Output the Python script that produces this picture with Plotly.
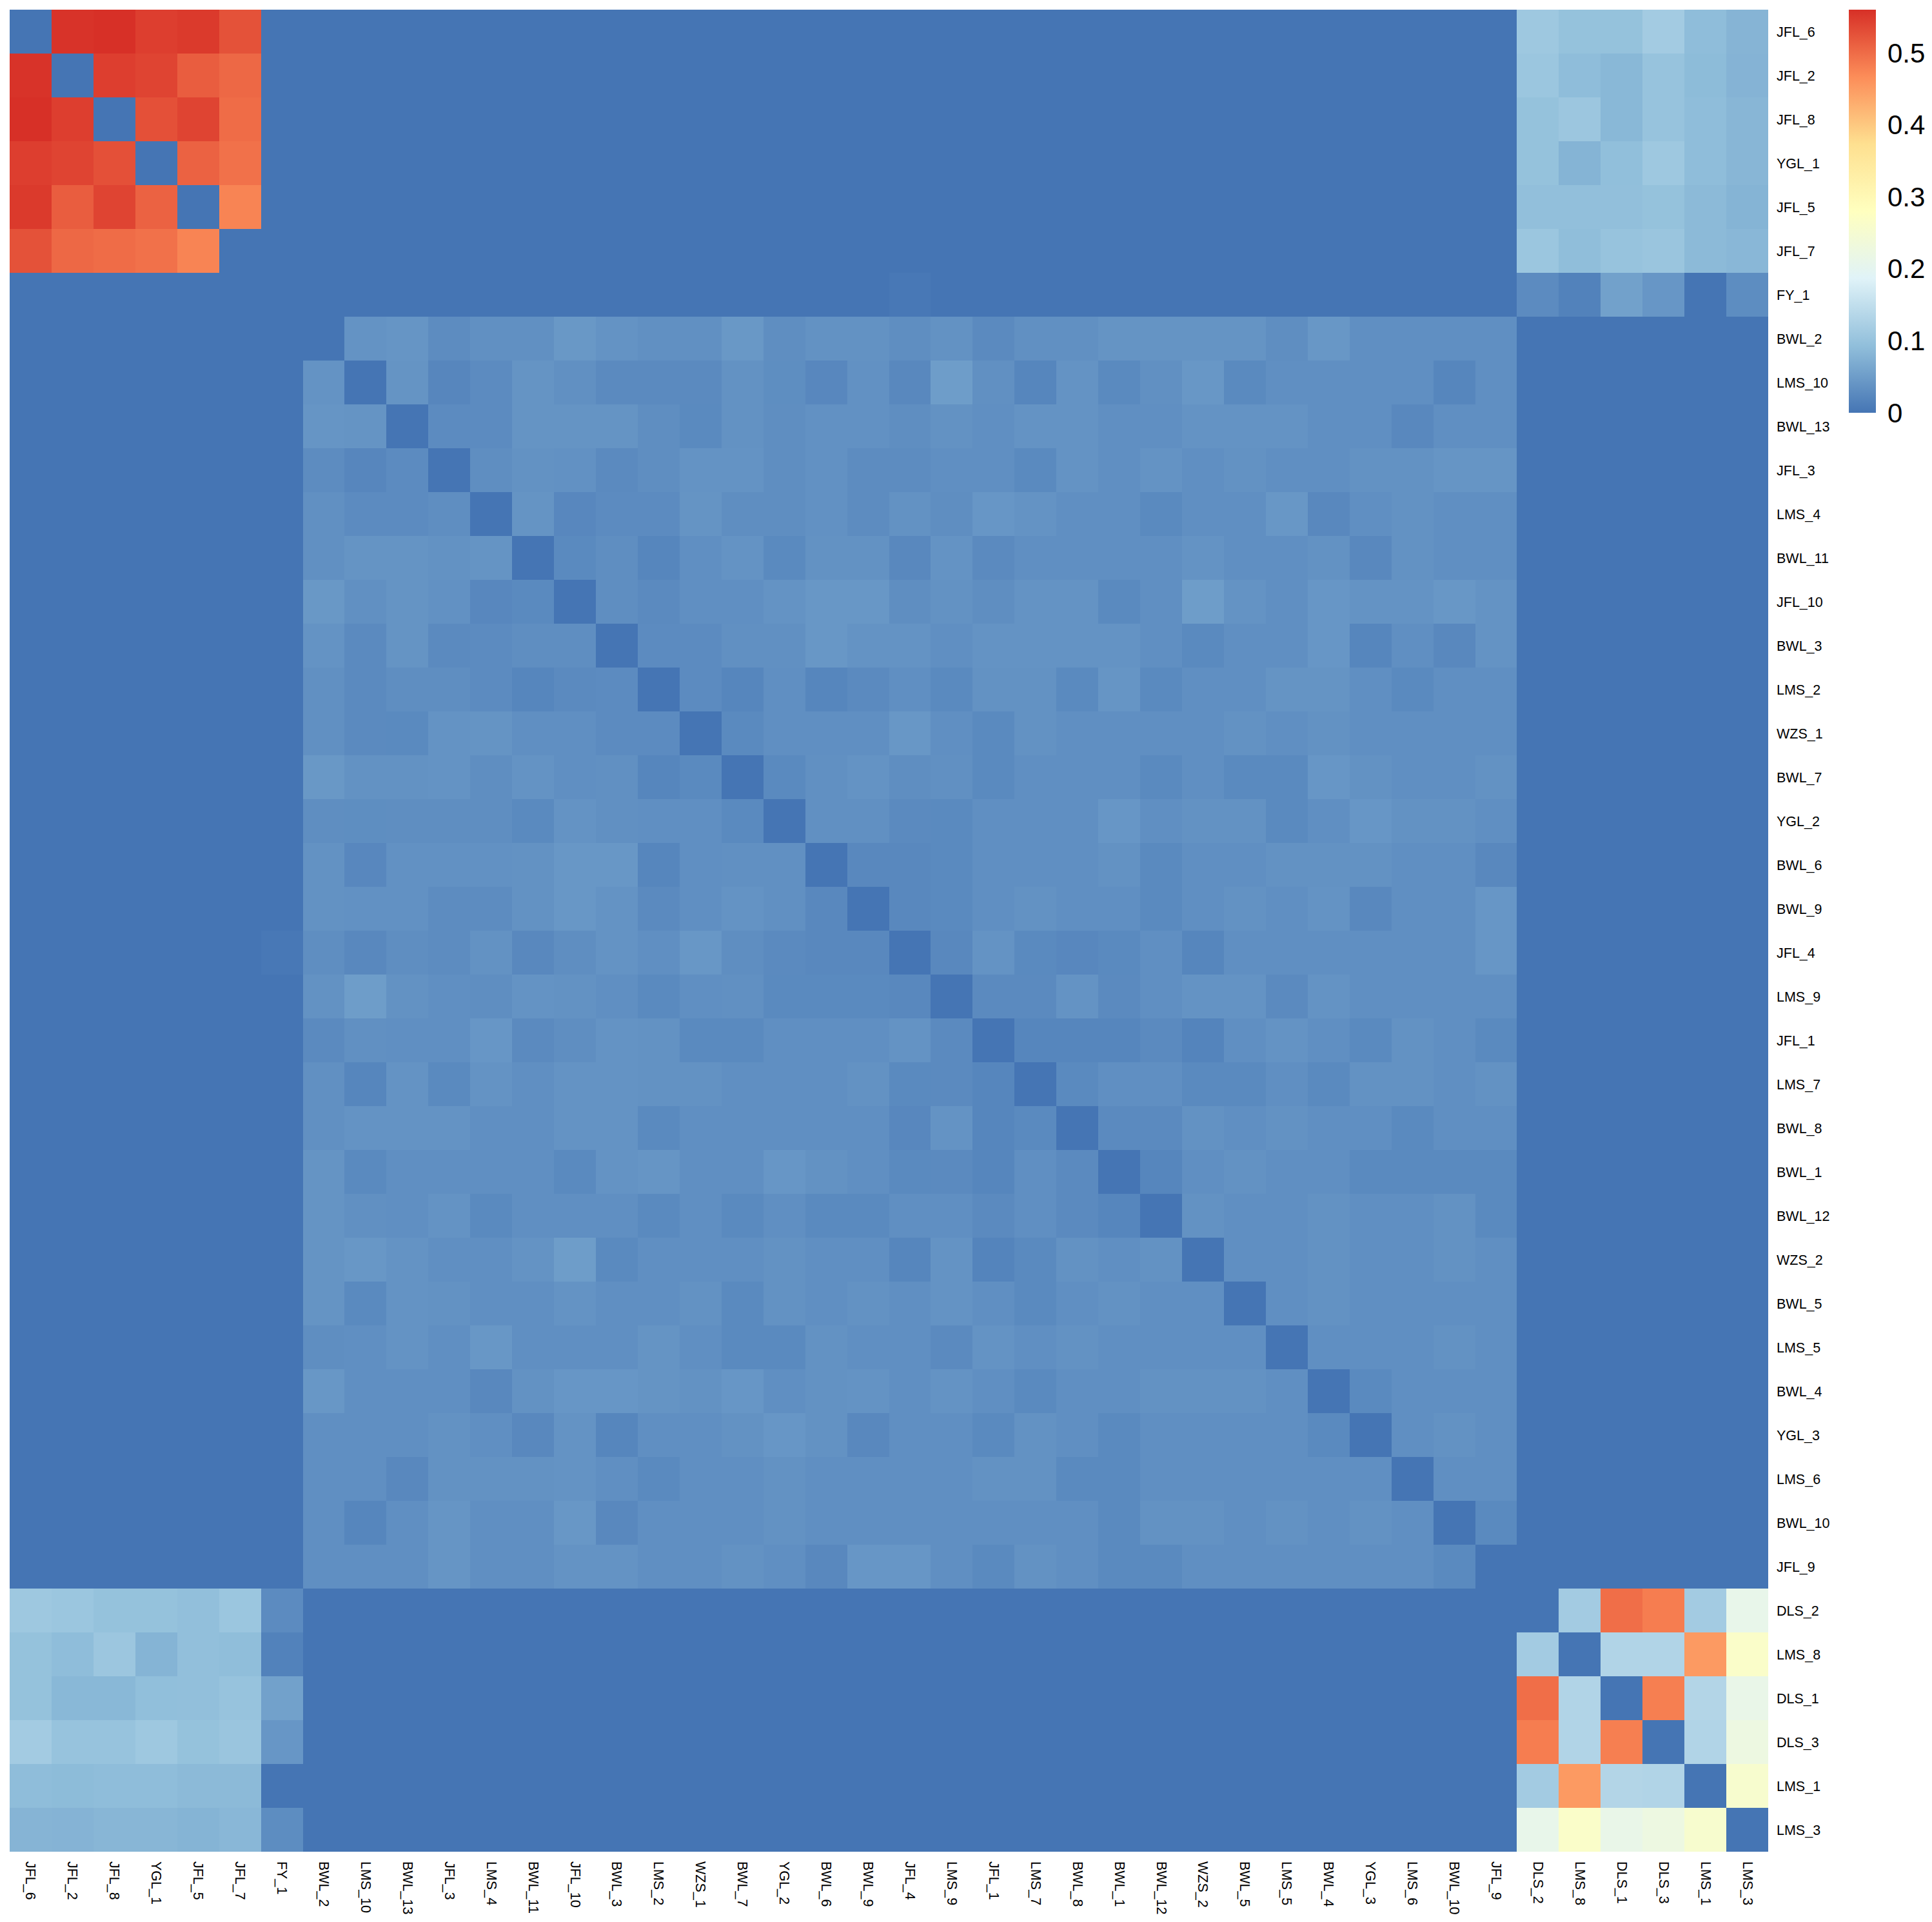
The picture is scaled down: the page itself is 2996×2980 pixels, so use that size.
import plotly.graph_objects as go

labels = ["JFL_6", "JFL_2", "JFL_8", "YGL_1", "JFL_5", "JFL_7", "FY_1",
          "BWL_2", "LMS_10", "BWL_13", "JFL_3", "LMS_4", "BWL_11", "JFL_10", "BWL_3",
          "LMS_2", "WZS_1", "BWL_7", "YGL_2", "BWL_6", "BWL_9", "JFL_4", "LMS_9",
          "JFL_1", "LMS_7", "BWL_8", "BWL_1", "BWL_12", "WZS_2", "BWL_5", "LMS_5",
          "BWL_4", "YGL_3", "LMS_6", "BWL_10", "JFL_9",
          "DLS_2", "LMS_8", "DLS_1", "DLS_3", "LMS_1", "LMS_3"]

# group A (first 6 samples) x group A
aa_block = [
    [0.000, 0.557, 0.560, 0.546, 0.550, 0.526],
    [0.557, 0.000, 0.546, 0.540, 0.515, 0.504],
    [0.560, 0.546, 0.000, 0.528, 0.540, 0.500],
    [0.546, 0.540, 0.528, 0.000, 0.510, 0.495],
    [0.550, 0.515, 0.540, 0.510, 0.000, 0.476],
    [0.526, 0.504, 0.500, 0.495, 0.476, 0.000],
]

# group A rows x group C columns (DLS_2, LMS_8, DLS_1, DLS_3, LMS_1, LMS_3)
ac_block = [
    [0.109, 0.098, 0.098, 0.115, 0.091, 0.080],
    [0.105, 0.091, 0.084, 0.101, 0.089, 0.078],
    [0.098, 0.106, 0.084, 0.100, 0.091, 0.082],
    [0.098, 0.079, 0.093, 0.109, 0.091, 0.082],
    [0.094, 0.094, 0.094, 0.098, 0.087, 0.079],
    [0.105, 0.092, 0.100, 0.104, 0.087, 0.083],
]

# group C x group C
cc_block = [
    [0.000, 0.115, 0.498, 0.483, 0.115, 0.210],
    [0.115, 0.000, 0.131, 0.131, 0.452, 0.264],
    [0.498, 0.131, 0.000, 0.481, 0.133, 0.213],
    [0.483, 0.131, 0.481, 0.000, 0.131, 0.225],
    [0.115, 0.452, 0.133, 0.131, 0.000, 0.255],
    [0.210, 0.264, 0.213, 0.225, 0.255, 0.000],
]

# FY_1 versus group C
fy_c = [0.028, 0.016, 0.055, 0.042, 0.000, 0.030]
# FY_1 versus group B (29 samples)
fy_b = [0.0, 0.0, 0.0, 0.0, 0.0, 0.0, 0.0, 0.0, 0.0, 0.0, 0.0, 0.0, 0.0, 0.0,
        0.004, 0.0, 0.0, 0.0, 0.0, 0.0, 0.0, 0.0, 0.0, 0.0, 0.0, 0.0, 0.0, 0.0, 0.0]

# group B upper triangle: row i holds values for columns i+1 .. 28
bb_upper = [
    [0.038, 0.040, 0.029, 0.034, 0.034, 0.044, 0.038, 0.034, 0.034, 0.044, 0.032, 0.037, 0.037, 0.032,
     0.037, 0.027, 0.034, 0.034, 0.039, 0.039, 0.039, 0.039, 0.032, 0.043, 0.033, 0.033, 0.033, 0.033],
    [0.039, 0.022, 0.028, 0.039, 0.034, 0.027, 0.027, 0.027, 0.037, 0.031, 0.023, 0.035, 0.024,
     0.050, 0.034, 0.021, 0.038, 0.026, 0.034, 0.043, 0.026, 0.033, 0.033, 0.033, 0.033, 0.021, 0.033],
    [0.028, 0.028, 0.039, 0.039, 0.039, 0.032, 0.026, 0.037, 0.032, 0.035, 0.035, 0.032,
     0.037, 0.033, 0.038, 0.038, 0.033, 0.033, 0.038, 0.038, 0.038, 0.033, 0.033, 0.024, 0.033, 0.033],
    [0.032, 0.037, 0.035, 0.027, 0.032, 0.038, 0.038, 0.032, 0.035, 0.029, 0.029,
     0.033, 0.033, 0.026, 0.038, 0.033, 0.038, 0.033, 0.037, 0.033, 0.033, 0.037, 0.037, 0.040, 0.040],
    [0.039, 0.023, 0.028, 0.028, 0.039, 0.032, 0.032, 0.035, 0.029, 0.037,
     0.032, 0.042, 0.038, 0.033, 0.033, 0.026, 0.033, 0.033, 0.043, 0.024, 0.033, 0.037, 0.033, 0.033],
    [0.026, 0.032, 0.021, 0.033, 0.038, 0.026, 0.037, 0.037, 0.024,
     0.038, 0.027, 0.033, 0.033, 0.033, 0.033, 0.038, 0.033, 0.033, 0.037, 0.024, 0.037, 0.033, 0.033],
    [0.032, 0.027, 0.033, 0.033, 0.038, 0.043, 0.043, 0.032,
     0.037, 0.032, 0.038, 0.038, 0.026, 0.033, 0.050, 0.038, 0.033, 0.042, 0.038, 0.038, 0.043, 0.038],
    [0.028, 0.028, 0.034, 0.034, 0.043, 0.038, 0.038,
     0.033, 0.038, 0.038, 0.038, 0.038, 0.033, 0.026, 0.033, 0.033, 0.042, 0.021, 0.033, 0.024, 0.038],
    [0.028, 0.021, 0.033, 0.021, 0.027, 0.033,
     0.026, 0.037, 0.037, 0.026, 0.040, 0.026, 0.033, 0.033, 0.039, 0.039, 0.033, 0.026, 0.033, 0.033],
    [0.026, 0.033, 0.033, 0.033, 0.043,
     0.033, 0.026, 0.037, 0.033, 0.033, 0.033, 0.033, 0.037, 0.033, 0.037, 0.033, 0.033, 0.033, 0.033],
    [0.026, 0.034, 0.038, 0.032,
     0.034, 0.026, 0.033, 0.033, 0.033, 0.026, 0.033, 0.026, 0.026, 0.042, 0.037, 0.033, 0.033, 0.037],
    [0.034, 0.034, 0.027,
     0.026, 0.033, 0.033, 0.033, 0.042, 0.033, 0.037, 0.037, 0.026, 0.033, 0.042, 0.037, 0.037, 0.033],
    [0.024, 0.024,
     0.026, 0.033, 0.033, 0.033, 0.037, 0.026, 0.033, 0.033, 0.037, 0.037, 0.037, 0.033, 0.033, 0.024],
    [0.024,
     0.026, 0.033, 0.037, 0.033, 0.033, 0.026, 0.033, 0.037, 0.033, 0.038, 0.024, 0.033, 0.033, 0.042],
    [0.024, 0.038, 0.026, 0.023, 0.026, 0.033, 0.021, 0.033, 0.033, 0.033, 0.033, 0.033, 0.033, 0.042],
    [0.027, 0.027, 0.038, 0.027, 0.033, 0.038, 0.038, 0.027, 0.038, 0.033, 0.033, 0.033, 0.033],
    [0.021, 0.021, 0.021, 0.027, 0.019, 0.033, 0.038, 0.033, 0.026, 0.037, 0.033, 0.026],
    [0.026, 0.033, 0.033, 0.026, 0.026, 0.033, 0.026, 0.037, 0.037, 0.033, 0.037],
    [0.027, 0.027, 0.037, 0.033, 0.037, 0.033, 0.033, 0.026, 0.033, 0.033],
    [0.021, 0.033, 0.037, 0.033, 0.033, 0.026, 0.026, 0.026, 0.026],
    [0.037, 0.033, 0.033, 0.037, 0.033, 0.033, 0.037, 0.026],
    [0.033, 0.033, 0.037, 0.033, 0.033, 0.037, 0.033],
    [0.033, 0.037, 0.033, 0.033, 0.033, 0.033],
    [0.033, 0.033, 0.033, 0.037, 0.033],
    [0.026, 0.033, 0.033, 0.033],
    [0.033, 0.037, 0.033],
    [0.033, 0.033],
    [0.026],
]

colorscale_colors = ["#4575B4", "#91BFDB", "#E0F3F8", "#FFFFBF", "#FEE090", "#FC8D59", "#D73027"]
cbar_ticks = [0, 0.1, 0.2, 0.3, 0.4, 0.5]
cbar_ticktext = ["0", "0.1", "0.2", "0.3", "0.4", "0.5"]

# ---- assemble the symmetric matrix ----
n = len(labels)
A = list(range(0, 6))
FY = 6
B = list(range(7, 36))
C = list(range(36, 42))
z = [[0.0] * n for _ in range(n)]

def setsym(i, j, v):
    z[i][j] = v
    z[j][i] = v

for a, i in enumerate(A):
    for b, j in enumerate(A):
        z[i][j] = aa_block[a][b]
    for c, j in enumerate(C):
        setsym(i, j, ac_block[a][c])
for a, i in enumerate(C):
    for b, j in enumerate(C):
        z[i][j] = cc_block[a][b]
for c, j in enumerate(C):
    setsym(FY, j, fy_c[c])
for b, j in enumerate(B):
    setsym(FY, j, fy_b[b])
for a, row in enumerate(bb_upper):
    for k, v in enumerate(row):
        setsym(B[a], B[a + 1 + k], v)

colorscale = [[k / (len(colorscale_colors) - 1), col] for k, col in enumerate(colorscale_colors)]

# the page body has an 8px default margin, so the figure is offset by 8px
W, H = 2988, 2972
ml, mr, mt, mb = 7, 254, 7, 109
plot_w = W - ml - mr

fig = go.Figure(go.Heatmap(
    z=z,
    x=list(range(n)),
    y=list(range(n)),
    colorscale=colorscale,
    zmin=0, zmax=0.56,
    xgap=0, ygap=0,
    colorbar=dict(
        x=(2859 - ml) / plot_w, xanchor="left", xref="paper", xpad=0,
        y=1, yanchor="top", yref="paper", ypad=0,
        len=625, lenmode="pixels",
        thickness=42, thicknessmode="pixels",
        outlinewidth=0,
        tickmode="array", tickvals=cbar_ticks, ticktext=cbar_ticktext,
        ticks="outside", ticklen=10, tickcolor="rgba(0,0,0,0)",
        tickfont=dict(family="Liberation Sans, Arial, sans-serif", size=42, color="black"),
    ),
))

fig.update_layout(
    width=W, height=H,
    margin=dict(l=ml, r=mr, t=mt, b=mb, autoexpand=False),
    paper_bgcolor="white", plot_bgcolor="white",
    font=dict(family="Liberation Sans, Arial, sans-serif", color="black"),
    xaxis=dict(
        range=[-0.5, n - 0.5],
        tickmode="array", tickvals=list(range(n)), ticktext=labels,
        tickangle=90, ticks="", showgrid=False, zeroline=False, showline=False,
        tickfont=dict(size=21.5, color="black"),
        ticklabelstandoff=14, automargin=False,
    ),
    yaxis=dict(
        range=[n - 0.5, -0.5],
        side="right",
        tickmode="array", tickvals=list(range(n)), ticktext=labels,
        ticks="", showgrid=False, zeroline=False, showline=False,
        tickfont=dict(size=21.5, color="black"),
        ticklabelstandoff=12, automargin=False,
    ),
)

fig.write_html("out.html")
